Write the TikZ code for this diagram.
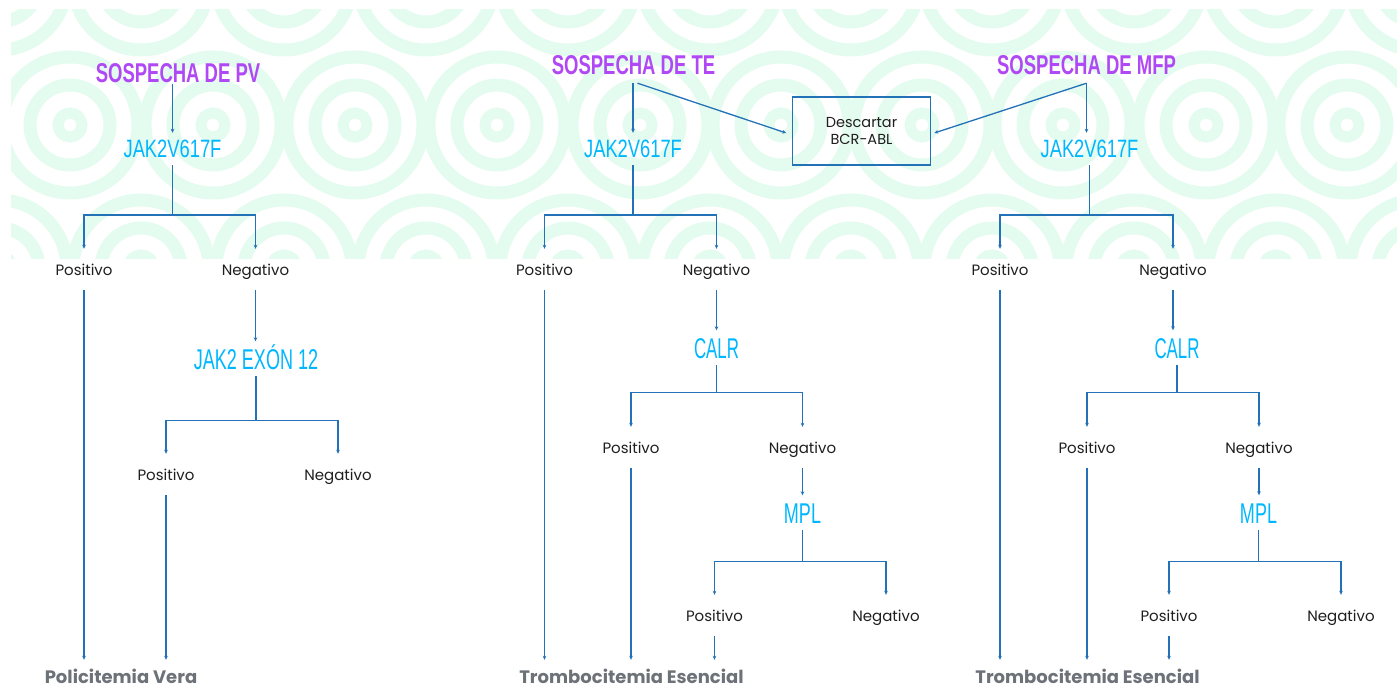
\documentclass[tikz,border=0pt]{standalone}
\usepackage{fontspec}
\setmainfont{Poppins}
\newfontfamily\condf{Liberation Sans}
\usetikzlibrary{arrows.meta}
\definecolor{bandg}{RGB}{228,251,239}
\definecolor{purp}{RGB}{176,72,245}
\definecolor{cyanc}{RGB}{0,183,255}
\definecolor{lnc}{RGB}{35,114,184}
\definecolor{leafc}{RGB}{108,114,120}
\definecolor{txt}{RGB}{30,30,30}
\newcommand\sqz[2]{\scalebox{#1}[1]{#2}}
\begin{document}
\begin{tikzpicture}[x=1pt,y=-1pt,
 ttl/.style={anchor=base, font=\condf\bfseries\fontsize{27.2}{28}\selectfont, text=purp, text height=19.5pt, text depth=0pt, inner xsep=0pt, inner ysep=8pt},
 cy/.style={anchor=base, font=\condf\fontsize{28.6}{30}\selectfont, text=cyanc, text height=20.5pt, text depth=0pt, inner xsep=0pt, inner ysep=7pt},
 cys/.style={cy, font=\condf\fontsize{25.1}{26}\selectfont, text height=18pt},
 res/.style={anchor=base, font=\fontsize{15}{18}\selectfont, text=txt, text height=11pt, text depth=0pt, inner xsep=0pt, inner ysep=15pt},
 leaf/.style={anchor=base, font=\bfseries\fontsize{18}{20}\selectfont, text=leafc, text height=13pt, text depth=0pt, inner xsep=0pt, inner ysep=10pt},
 ln/.style={draw=lnc, line width=1.3pt},
 arr/.style={ln, -{Stealth[length=4pt,width=3.6pt]}},
 box/.style={draw=lnc, line width=1.5pt, minimum width=138pt, minimum height=68pt, align=center, font=\fontsize{14.5}{17}\selectfont, text=txt, inner sep=0pt},
 ring/.style={draw=bandg, line width=13pt}
]
\useasboundingbox (0,0) rectangle (1397,687);
% background band pattern
\begin{scope}
\clip (11,10) rectangle (1397,258);
\foreach \cx in {70,213,355,497,640,781,922,1063,1206,1347} {
  \draw[bandg, line width=11pt] (\cx,125) circle[radius=12];
  \foreach \r in {40,68} {\draw[ring] (\cx,125) circle[radius=\r];}
}
\foreach \cx in {-1,141,284,426,568,710,851,992,1134,1276,1418} {
  \foreach \r in {12,40,68} {
    \draw[ring] (\cx,-18) circle[radius=\r];
    \draw[ring] (\cx,268) circle[radius=\r];
  }
}
\end{scope}

% titles
\node[ttl, inner ysep=1pt] (t1) at (178,83) {\sqz{0.68}{SOSPECHA DE PV}};
\node[ttl] (t2) at (633.5,75) {\sqz{0.68}{SOSPECHA DE TE}};
\node[ttl] (t3) at (1086.5,75) {\sqz{0.68}{SOSPECHA DE MFP}};
\node[cys] (j1) at (172.5,158) {\sqz{0.73}{JAK2V617F}};
\node[cys] (j2) at (633,158) {\sqz{0.73}{JAK2V617F}};
\node[cys] (j3) at (1089.5,158) {\sqz{0.73}{JAK2V617F}};
\node[box] (d) at (861.5,131) {Descartar\\BCR-ABL};

% column 1
\node[res] (p1) at (84,275) {Positivo};
\node[res] (n1) at (255.5,275) {Negativo};
\node[cy] (e1) at (256,369) {\sqz{0.63}{JAK2 EXÓN 12}};
\node[res] (p11) at (166,480) {Positivo};
\node[res] (n11) at (338,480) {Negativo};
\node[leaf] (L1) at (121,683) {Policitemia Vera};

% column 2
\node[res] (p2) at (544.5,275) {Positivo};
\node[res] (n2) at (716.5,275) {Negativo};
\node[cy] (c2) at (716.5,358) {\sqz{0.59}{CALR}};
\node[res] (p21) at (631,453) {Positivo};
\node[res] (n21) at (802.5,453) {Negativo};
\node[cy] (m2) at (802.5,523) {\sqz{0.63}{MPL}};
\node[res] (p22) at (714.5,621) {Positivo};
\node[res] (n22) at (886,621) {Negativo};
\node[leaf] (L2) at (631.5,683) {Trombocitemia Esencial};

% column 3
\node[res] (p3) at (1000,275) {Positivo};
\node[res] (n3) at (1173,275) {Negativo};
\node[cy] (c3) at (1177,358) {\sqz{0.59}{CALR}};
\node[res] (p31) at (1087,453) {Positivo};
\node[res] (n31) at (1259,453) {Negativo};
\node[cy] (m3) at (1258.5,523) {\sqz{0.63}{MPL}};
\node[res] (p32) at (1169,621) {Positivo};
\node[res] (n32) at (1341,621) {Negativo};
\node[leaf] (L3) at (1087.5,683) {Trombocitemia Esencial};

% branch levels
\coordinate (r1) at (0,215);
\coordinate (r11) at (0,420.7);
\coordinate (r21) at (0,392.7);
\coordinate (r22) at (0,561.7);

% connectors column 1
\draw[arr] (t1.south -| j1) -- (j1.north);
\draw[ln] (j1.south) -- (j1.south |- r1);
\draw[arr] (j1.south |- r1) -| (p1.north);
\draw[arr] (j1.south |- r1) -| (n1.north);
\draw[arr] (n1.south) -- (n1.south |- e1.north);
\draw[ln] (e1.south) -- (e1.south |- r11);
\draw[arr] (e1.south |- r11) -| (p11.north);
\draw[arr] (e1.south |- r11) -| (n11.north);
\draw[arr] (p1.south) -- (p1.south |- L1.north);
\draw[arr] (p11.south) -- (p11.south |- L1.north);

% connectors column 2
\draw[arr] (t2.south -| j2) -- (j2.north);
\draw[arr] ([xshift=4pt]t2.south) -- ([yshift=-2pt,xshift=-5.5pt]d.west);
\draw[ln] (j2.south) -- (j2.south |- r1);
\draw[arr] (j2.south |- r1) -| (p2.north);
\draw[arr] (j2.south |- r1) -| (n2.north);
\draw[arr] (n2.south) -- (n2.south |- c2.north);
\draw[ln] (c2.south) -- (c2.south |- r21);
\draw[arr] (c2.south |- r21) -| (p21.north);
\draw[arr] (c2.south |- r21) -| (n21.north);
\draw[arr] (n21.south) -- (n21.south |- m2.north);
\draw[ln] (m2.south) -- (m2.south |- r22);
\draw[arr] (m2.south |- r22) -| (p22.north);
\draw[arr] (m2.south |- r22) -| (n22.north);
\draw[arr] (p2.south) -- (p2.south |- L2.north);
\draw[arr] (p21.south) -- (p21.south |- L2.north);
\draw[arr] (p22.south) -- (p22.south |- L2.north);

% connectors column 3
\draw[arr] (t3.south) -- (t3.south |- j3.north);
\draw[arr] (t3.south) -- ([yshift=-2pt,xshift=3pt]d.east);
\draw[ln] (j3.south) -- (j3.south |- r1);
\draw[arr] (j3.south |- r1) -| (p3.north);
\draw[arr] (j3.south |- r1) -| (n3.north);
\draw[arr] (n3.south) -- (n3.south |- c3.north);
\draw[ln] (c3.south) -- (c3.south |- r21);
\draw[arr] (c3.south |- r21) -| (p31.north);
\draw[arr] (c3.south |- r21) -| (n31.north);
\draw[arr] (n31.south) -- (n31.south |- m3.north);
\draw[ln] (m3.south) -- (m3.south |- r22);
\draw[arr] (m3.south |- r22) -| (p32.north);
\draw[arr] (m3.south |- r22) -| (n32.north);
\draw[arr] (p3.south) -- (p3.south |- L3.north);
\draw[arr] (p31.south) -- (p31.south |- L3.north);
\draw[arr] (p32.south) -- (p32.south |- L3.north);
\end{tikzpicture}
\end{document}
